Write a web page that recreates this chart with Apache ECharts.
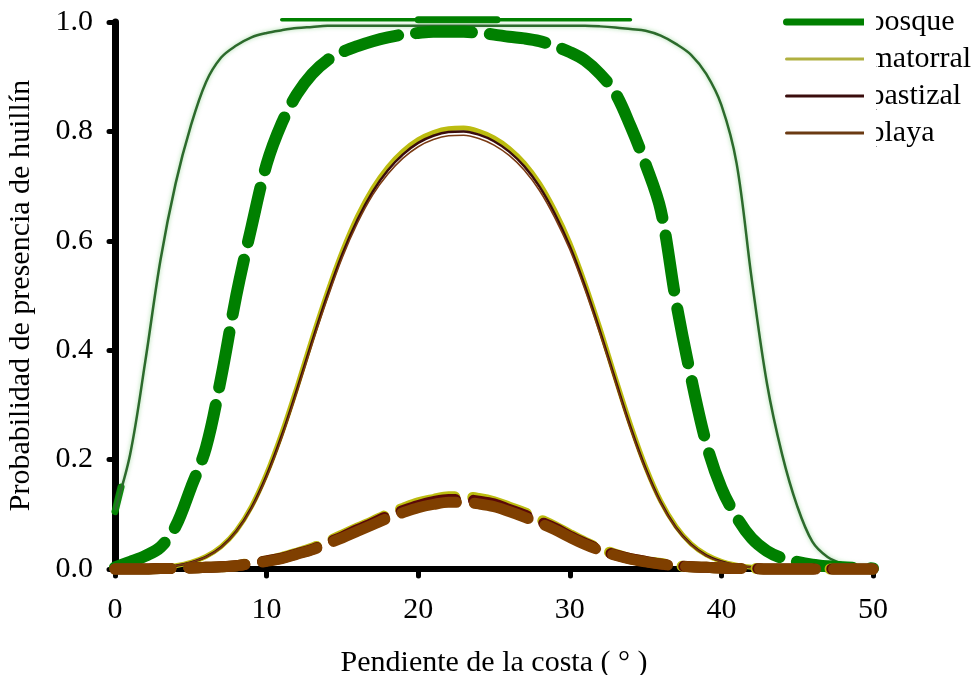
<!DOCTYPE html>
<html>
<head>
<meta charset="utf-8">
<script src="https://cdn.jsdelivr.net/npm/echarts@6/dist/echarts.min.js"></script>
<style>
  html, body { margin: 0; padding: 0; background: #fff; }
  #chart { width: 971px; height: 675px; }
</style>
</head>
<body>
<div id="chart"></div>
<script>
// Pendiente de la costa (grados)
const slope = [0,1,2,3,4,5,6,7,8,9,10,11,12,13,14,15,16,17,18,19,20,21,22,23,24,25,
  26,27,28,29,30,31,32,33,34,35,36,37,38,39,40,41,42,43,44,45,46,47,48,49,50];

// bosque: banda superior y tramo inicial
const bosqueBandX = [11, 34];
const bosqueBandY = [1.004, 1.004];
const bosqueCoreX = [20, 25.2];
const bosqueCoreY = [1.004, 1.004];
const bosqueEdgeX = [0, 0.4];
const bosqueEdgeY = [0.105, 0.15];

// bosque: curva fina
const bosqueThin = [0.108,0.21,0.38,0.565,0.705,0.81,0.89,0.935,0.957,0.972,0.98,0.985,0.989,0.991,0.993,0.993,
  0.993,0.993,0.993,0.993,0.993,0.993,0.993,0.993,0.993,0.993,0.993,0.993,0.993,0.993,0.993,0.993,0.992,0.99,
  0.987,0.984,0.975,0.96,0.94,0.905,0.848,0.742,0.53,0.34,0.21,0.115,0.05,0.022,0.01,0.006,0.004];

// bosque: curva discontinua
const bosqueDash = [0.003,0.013,0.024,0.04,0.078,0.148,0.222,0.35,0.5,0.625,0.74,0.815,0.868,0.905,0.93,0.945,
  0.956,0.965,0.972,0.977,0.98,0.982,0.982,0.982,0.98,0.977,0.973,0.97,0.965,0.956,0.945,0.93,0.905,0.87,
  0.81,0.74,0.656,0.49,0.35,0.23,0.148,0.095,0.056,0.033,0.02,0.013,0.008,0.005,0.003,0.002,0.001];

// curvas continuas
const matorralLine = [0,0,0.001,0.003,0.006,0.012,0.023,0.041,0.070,0.114,0.174,0.248,0.332,0.421,0.505,0.581,
  0.645,0.696,0.735,0.764,0.785,0.798,0.805,0.806,0.800,0.788,0.769,0.742,0.705,0.656,0.596,0.522,0.439,0.350,
  0.264,0.187,0.124,0.078,0.046,0.026,0.014,0.007,0.003,0.002,0.001,0,0,0,0,0,0];
const pastizalLine = [0,0,0.001,0.003,0.006,0.012,0.022,0.040,0.069,0.112,0.171,0.244,0.328,0.416,0.500,0.576,
  0.639,0.690,0.729,0.758,0.779,0.792,0.799,0.800,0.794,0.782,0.763,0.736,0.699,0.650,0.590,0.517,0.434,0.346,
  0.260,0.184,0.122,0.076,0.045,0.025,0.014,0.007,0.003,0.002,0.001,0,0,0,0,0,0];
const playaLine = [0,0,0.001,0.003,0.006,0.012,0.022,0.039,0.068,0.110,0.168,0.240,0.323,0.411,0.494,0.570,
  0.633,0.684,0.722,0.751,0.772,0.785,0.792,0.793,0.787,0.775,0.756,0.729,0.692,0.643,0.584,0.511,0.429,0.342,
  0.256,0.181,0.120,0.075,0.044,0.024,0.013,0.007,0.003,0.002,0.001,0,0,0,0,0,0];

// curvas discontinuas
const matorralDash = [0,0,0,0.001,0.001,0.002,0.003,0.004,0.006,0.011,0.015,0.021,0.029,0.038,0.050,0.062,0.075,
  0.087,0.100,0.111,0.121,0.127,0.132,0.132,0.129,0.123,0.113,0.103,0.091,0.078,0.063,0.049,0.037,0.027,0.019,
  0.014,0.010,0.006,0.004,0.003,0.002,0.001,0.001,0,0,0,0,0,0,0,0];
const pastizalDash = [0,0,0,0.001,0.001,0.002,0.003,0.004,0.006,0.010,0.015,0.020,0.028,0.036,0.048,0.059,0.072,
  0.084,0.097,0.107,0.116,0.123,0.127,0.127,0.124,0.119,0.109,0.099,0.087,0.075,0.060,0.047,0.035,0.026,0.019,
  0.014,0.009,0.006,0.004,0.003,0.002,0.001,0.001,0,0,0,0,0,0,0,0];
const playaDash = [0,0,0,0.001,0.001,0.002,0.003,0.004,0.006,0.010,0.014,0.019,0.027,0.035,0.046,0.057,0.069,
  0.081,0.093,0.103,0.112,0.118,0.122,0.122,0.119,0.114,0.105,0.095,0.084,0.072,0.058,0.045,0.034,0.025,0.018,
  0.013,0.009,0.006,0.004,0.003,0.002,0.001,0.001,0,0,0,0,0,0,0,0];

const legendNames = ['bosque', 'matorral', 'pastizal', 'playa'];
const xTitle = 'Pendiente de la costa ( ° )';
const yTitle = 'Probabilidad de presencia de huillín';

const FONT = "'Liberation Serif', 'Times New Roman', serif";
const FS = 30;
const GREEN = '#008000';
const YELLOW = '#bcbc10';
const MAROON = '#5a0808';
const BROWN = '#7f3f00';

function pairs(ys) { return slope.map((x, i) => [x, ys[i]]); }
function zip(xs, ys) { return xs.map((x, i) => [x, ys[i]]); }

function solid(name, ys, color, width, extra) {
  return Object.assign({
    name, type: 'line', data: pairs(ys), showSymbol: false, symbol: 'none',
    smooth: 0.35, clip: false, silent: true,
    lineStyle: { color, width, cap: 'round', join: 'round' }
  }, extra || {});
}
function dashed(name, ys, color, width) {
  return {
    name, type: 'line', data: pairs(ys), showSymbol: false, symbol: 'none',
    smooth: 0.35, clip: false, silent: true,
    lineStyle: { color, width, type: [56, 18], cap: 'round', join: 'round' }
  };
}

const chart = echarts.init(document.getElementById('chart'), null, { renderer: 'canvas' });
chart.setOption({
  animation: false,
  backgroundColor: '#fff',
  grid: { left: 115, right: 98, top: 22, bottom: 106, containLabel: false, outerBoundsMode: 'none' },
  legend: {
    orient: 'vertical', left: 778, top: 2,
    itemWidth: 78, itemHeight: 14, itemGap: 7,
    selectedMode: false,
    textStyle: { fontFamily: FONT, fontSize: FS, lineHeight: 30, color: '#000' },
    itemStyle: { opacity: 0 },
    lineStyle: { width: 'inherit' },
    data: [
      { name: legendNames[0], lineStyle: { width: 7, cap: 'round', color: GREEN } },
      { name: legendNames[1], lineStyle: { width: 3, color: '#b0b040' } },
      { name: legendNames[2], lineStyle: { width: 3, color: '#3a0c0c' } },
      { name: legendNames[3], lineStyle: { width: 3, color: '#6b3a12' } }
    ]
  },
  xAxis: {
    type: 'value', min: 0, max: 50, interval: 10,
    name: xTitle, nameLocation: 'middle', nameGap: 79,
    nameTextStyle: { fontFamily: FONT, fontSize: FS, color: '#000' },
    axisLine: { lineStyle: { color: '#000', width: 6 } },
    axisTick: { length: 7, lineStyle: { color: '#000', width: 5, cap: 'round' } },
    axisLabel: { margin: 26, fontFamily: FONT, fontSize: FS, color: '#000' },
    splitLine: { show: false }
  },
  yAxis: {
    type: 'value', min: 0, max: 1, interval: 0.2, offset: 2,
    name: yTitle, nameLocation: 'middle', nameGap: 77,
    nameTextStyle: { fontFamily: FONT, fontSize: FS, color: '#000' },
    axisLine: { show: true, lineStyle: { color: '#000', width: 7 } },
    axisTick: { show: true, length: 6, lineStyle: { color: '#000', width: 5, cap: 'round' } },
    axisLabel: { margin: 20, fontFamily: FONT, fontSize: FS, color: '#000',
      formatter: v => v.toFixed(1) },
    splitLine: { show: false }
  },
  series: [
    {
      name: 'bosque', type: 'line', data: zip(bosqueBandX, bosqueBandY), showSymbol: false, symbol: 'none',
      clip: false, silent: true, lineStyle: { color: GREEN, width: 3.5, cap: 'round' }
    },
    {
      name: 'bosque', type: 'line', data: zip(bosqueCoreX, bosqueCoreY), showSymbol: false, symbol: 'none',
      clip: false, silent: true, lineStyle: { color: GREEN, width: 7, cap: 'round' }
    },
    {
      name: 'bosque', type: 'line', data: zip(bosqueEdgeX, bosqueEdgeY), showSymbol: false, symbol: 'none',
      clip: false, silent: true, lineStyle: { color: GREEN, width: 7, cap: 'round' }
    },
    solid('bosque', bosqueThin, '#2c6a2c', 2.5,
      { lineStyle: { color: '#2c6a2c', width: 2.5, shadowColor: 'rgba(90,190,90,0.55)', shadowBlur: 4 } }),
    solid('matorral', matorralLine, YELLOW, 5),
    solid('pastizal', pastizalLine, '#3a0c0c', 2.5),
    solid('playa', playaLine, '#7a3a12', 1.6),
    dashed('bosque', bosqueDash, GREEN, 12),
    dashed('matorral', matorralDash, YELLOW, 11),
    dashed('pastizal', pastizalDash, MAROON, 11),
    dashed('playa', playaDash, BROWN, 11)
  ],
  graphic: [
    { type: 'rect', z: 100, silent: true,
      shape: { x: 864, y: 0, width: 12, height: 150 }, style: { fill: '#fff' } }
  ]
});
</script>
</body>
</html>
